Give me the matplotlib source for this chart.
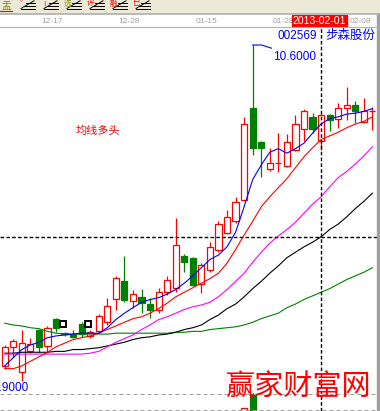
import matplotlib
matplotlib.use('Agg')
import matplotlib.pyplot as plt
from matplotlib.lines import Line2D
from matplotlib.patches import Rectangle
import numpy as np

W, H = 380, 411

# Daily candles, index 0 = 2012-12-07 ... index 43 = 2013-02-18
opens = [7.07, 7.28, 7.00, 7.23, 7.47, 7.29, 7.59, 7.43, 7.42, 7.53,
         7.40, 7.45, 7.55, 7.81, 8.00, 7.78, 7.83, 7.75, 7.69, 7.88,
         7.93, 8.28, 8.26, 7.97, 8.13, 8.35, 8.53, 8.66, 8.90, 9.91,
         9.53, 9.24, 9.30, 9.27, 9.45, 9.68, 9.81, 9.54, 9.83, 9.79,
         9.91, 9.94, 9.75, 9.87]
highs = [7.30, 7.37, 7.47, 7.38, 7.48, 7.51, 7.60, 7.44, 7.47, 7.55,
         7.47, 7.64, 7.82, 8.06, 8.28, 7.91, 7.92, 7.82, 7.93, 8.06,
         8.70, 8.30, 8.27, 8.20, 8.43, 8.66, 8.79, 8.93, 9.81, 10.60,
         9.54, 9.47, 9.63, 9.62, 9.83, 9.90, 9.85, 9.84, 9.84, 9.96,
         10.14, 9.98, 10.02, 9.92]
lows = [7.04, 7.17, 6.90, 7.21, 7.22, 7.21, 7.44, 7.40, 7.38, 7.39,
        7.38, 7.43, 7.52, 7.69, 7.77, 7.71, 7.65, 7.60, 7.65, 7.85,
        7.88, 8.10, 7.95, 7.87, 8.10, 8.32, 8.52, 8.64, 8.88, 9.39,
        9.15, 9.21, 9.20, 9.26, 9.43, 9.54, 9.63, 9.45, 9.65, 9.69,
        9.78, 9.74, 9.74, 9.67]
closes = [7.28, 7.34, 7.32, 7.31, 7.28, 7.49, 7.49, 7.42, 7.39, 7.42,
          7.44, 7.62, 7.73, 8.04, 7.80, 7.86, 7.76, 7.69, 7.88, 8.02,
          8.40, 8.21, 7.96, 8.18, 8.38, 8.63, 8.71, 8.87, 9.73, 9.47,
          9.47, 9.30, 9.30, 9.53, 9.73, 9.87, 9.68, 9.83, 9.78, 9.91,
          9.94, 9.87, 9.87, 9.87]
volumes = [38, 30, 52, 25, 33, 41, 36, 18, 15, 27,
           22, 35, 44, 57, 62, 31, 29, 26, 40, 47,
           78, 55, 58, 43, 52, 61, 49, 58, 83.5, 100,
           72, 45, 48, 50, 63, 66, 52, 59, 44, 47,
           42, 39, 41, 36]

# moving averages as drawn on the chart
ma5 = [7.07, 7.16, 7.25, 7.30, 7.33, 7.38, 7.40, 7.41, 7.42, 7.43,
       7.43, 7.43, 7.49, 7.58, 7.65, 7.71, 7.77, 7.80, 7.82, 7.86,
       7.91, 7.98, 8.06, 8.15, 8.24, 8.29, 8.38, 8.54, 8.82, 9.12,
       9.28, 9.42, 9.46, 9.41, 9.46, 9.52, 9.63, 9.73, 9.79, 9.81,
       9.84, 9.85, 9.87, 9.90]
ma10 = [7.04, 7.04, 7.07, 7.12, 7.17, 7.22, 7.28, 7.32, 7.36, 7.38,
        7.40, 7.43, 7.47, 7.51, 7.55, 7.59, 7.61, 7.65, 7.70, 7.76,
        7.83, 7.88, 7.93, 7.98, 8.03, 8.09, 8.20, 8.35, 8.51, 8.66,
        8.82, 8.93, 9.03, 9.13, 9.25, 9.37, 9.47, 9.56, 9.60, 9.64,
        9.69, 9.73, 9.76, 9.81]
ma20 = [7.20, 7.20, 7.20, 7.20, 7.20, 7.20, 7.20, 7.20, 7.20, 7.20,
        7.21, 7.23, 7.28, 7.33, 7.37, 7.41, 7.47, 7.52, 7.58, 7.61,
        7.65, 7.69, 7.72, 7.74, 7.77, 7.83, 7.91, 8.00, 8.09, 8.21,
        8.32, 8.42, 8.50, 8.57, 8.65, 8.75, 8.85, 8.93, 9.04, 9.14,
        9.21, 9.29, 9.38, 9.48]
ma30 = [7.21, 7.21, 7.22, 7.22, 7.22, 7.22, 7.23, 7.23, 7.25, 7.25,
        7.26, 7.27, 7.29, 7.31, 7.33, 7.36, 7.38, 7.39, 7.41, 7.42,
        7.44, 7.47, 7.49, 7.52, 7.58, 7.63, 7.70, 7.75, 7.83, 7.92,
        8.00, 8.09, 8.17, 8.26, 8.32, 8.38, 8.43, 8.49, 8.57, 8.63,
        8.71, 8.80, 8.88, 8.97]
ma60 = [7.54, 7.52, 7.51, 7.49, 7.48, 7.45, 7.43, 7.42, 7.42, 7.42,
        7.42, 7.42, 7.42, 7.43, 7.43, 7.43, 7.43, 7.43, 7.43, 7.43,
        7.44, 7.44, 7.45, 7.45, 7.47, 7.48, 7.49, 7.50, 7.52, 7.55,
        7.59, 7.62, 7.65, 7.71, 7.75, 7.80, 7.84, 7.88, 7.92, 7.97,
        8.02, 8.06, 8.10, 8.15]

date_ticks = [6, 15, 24, 33, 42]
date_labels = ['12-17', '12-28', '01-15', '01-28', '02-08']
cursor_day = 37
cursor_label = '2013-02-01'
cursor_price = 8.49
stock_code = '002569'
stock_name = '步森股份'
note = '均线多头'
watermark = '赢家财富网'
mine_days = [7, 10]
mine_price = 7.53

RED = '#FF0000'
GREEN = '#008000'
BLUE = '#0000FF'
MAGENTA = '#FF00FF'
GRAY = '#A0A0A0'
CJK = ['Noto Sans CJK SC', 'DejaVu Sans']
NUM = 'Liberation Sans'

XLIM = (-0.55, 43.54)
YLIM = (6.761, 10.798)

fig = plt.figure(figsize=(W / 100, H / 100), dpi=100)
fig.patch.set_facecolor('white')


def px_rect(x0, y0, x1, y1):
    return [x0 / W, 1 - y1 / H, (x1 - x0) / W, (y1 - y0) / H]


def fig_xy(x, y):
    return x / W, 1 - y / H


def fig_line(xs, ys, **kw):
    fig.add_artist(Line2D([x / W for x in xs], [1 - y / H for y in ys],
                          transform=fig.transFigure, **kw))


# Toolbar strip
tb = fig.add_axes(px_rect(0, 0, W, 14))
tb.set_xlim(0, W)
tb.set_ylim(14, 0)
tb.axis('off')
tb.add_patch(Rectangle((0, 0), W, 14, color='#ECE9D8'))
icon_x = [0, 18, 41, 64, 87, 110, 133]
icon_chars = ['盂', '°', '!', '选', '评', '融', '巳']
icon_cols = ['#8B8B00', RED, RED, '#8B8B00', RED, RED, RED]
for i, (x0, ch, col) in enumerate(zip(icon_x, icon_chars, icon_cols)):
    if i == 0:
        tb.text(x0 + 6, 5.5, ch, color=col, fontsize=7, ha='center', va='center', family=CJK)
        tb.plot([x0, x0 + 12], [11.5, 11.5], color=RED, lw=0.8)
        continue
    tb.text(x0 + 3.5, 3.5, ch, color=col, fontsize=5.5, ha='center', va='center', family=CJK)
    tb.plot([x0 + 16, x0 + 3], [0.8, 8.5], color='black', lw=0.7)
    tb.plot([x0 + 8, x0 + 17], [3.5, 3.5], color='black', lw=0.7)
    tb.plot([x0 + 6, x0 + 17], [6.2, 6.2], color='black', lw=0.7)
    tb.plot([x0 + 3, x0 + 17], [9.0, 9.0], color='black', lw=0.7)
fig_line([0, W], [14.5, 14.5], color='#A8A8A8', lw=1.1)

# Date strip
axd = fig.add_axes(px_rect(0, 15, 377, 27))
axd.set_xlim(*XLIM)
axd.set_ylim(0, 1)
axd.axis('off')
for k, lab in zip(date_ticks, date_labels):
    axd.text(k - 0.45, 0.5, lab, color=GRAY, fontsize=6, ha='center', va='center', family=NUM)
axd.add_patch(Rectangle((cursor_day - 0.2 - 3.215, 0.025), 6.43, 0.975, color=RED, zorder=3))
axd.text(cursor_day - 0.2, 0.5, cursor_label, color='white', fontsize=7.5,
         ha='center', va='center', family=NUM, zorder=4)
fig_line([0, 377], [27, 27], color='#B4B4B4', lw=0.8)

# Price panel
ax = fig.add_axes(px_rect(0, 27, 377, 394))
ax.set_xlim(*XLIM)
ax.set_ylim(*YLIM)
ax.axis('off')

for i in range(len(closes)):
    o, h, l, c = opens[i], highs[i], lows[i], closes[i]
    rising = c >= o
    col = RED if rising else GREEN
    ax.vlines(i, l, h, color=col, lw=0.9, zorder=2)
    ax.bar(i, abs(c - o), bottom=min(o, c), width=0.72,
           color='white' if rising else GREEN, edgecolor=col, linewidth=0.9, zorder=3)

days = np.arange(len(closes))
for vals, col in [(ma60, GREEN), (ma30, 'black'), (ma20, MAGENTA), (ma10, RED), (ma5, BLUE)]:
    ax.plot(days, vals, color=col, lw=0.8, zorder=4)

# info markers
for k in mine_days:
    ax.plot(k - 0.2, mine_price, marker='s', ms=5, mfc='white', mec='black', mew=1.4, zorder=5)

# highest / lowest labels
hi_i = int(np.argmax(highs))
lo_i = int(np.argmin(lows))
hi, lo = highs[hi_i], lows[lo_i]
ax.plot([hi_i, hi_i + 1.05, hi_i + 2.2], [hi, hi, hi - 0.035], color=BLUE, lw=0.8,
        clip_on=False, zorder=5)
ax.text(hi_i + 2.35, hi - 0.13, f'{hi:.4f}', color=BLUE, fontsize=8.5,
        ha='left', va='center', family=NUM)
ax.text(lo_i + 0.8, lo - 0.01, f'{lo:.4f}', color=BLUE, fontsize=8.5,
        ha='right', va='top', family=NUM)

# crosshair
cross = dict(color='black', lw=1.0, dashes=(2.6, 1.6), zorder=6)
ax.axhline(cursor_price, **cross)
ax.axvline(cursor_day, **cross)

# Volume panel (only the top of the tallest bars shows)
axv = fig.add_axes(px_rect(0, 394, 377, 411))
axv.set_xlim(*XLIM)
axv.set_ylim(80, 100)
axv.axis('off')
for i in range(len(volumes)):
    rising = closes[i] >= opens[i]
    col = RED if rising else GREEN
    axv.bar(i, volumes[i], width=0.72, color='white' if rising else GREEN,
            edgecolor=col, linewidth=0.9)
axv.axvline(cursor_day, **cross)

fig_line([0, 377], [394, 394], color=GRAY, lw=0.72, dashes=(4, 3))
fig_line([0, 377], [410, 410], color=GRAY, lw=0.72, dashes=(4, 3))

# right border
fig.add_artist(Rectangle(fig_xy(377, 411), 3 / W, 397 / H, transform=fig.transFigure,
                         color=GRAY, zorder=1))

# texts
fig.text(*fig_xy(317, 35.5), stock_code, color=BLUE, fontsize=8.5, ha='right', va='center', family=NUM)
fig.text(*fig_xy(350, 35), stock_name, color=BLUE, fontsize=9, ha='center', va='center', family=CJK)
fig.text(*fig_xy(97.5, 131), note, color=RED, fontsize=8, ha='center', va='center', family=CJK)
fig.text(*fig_xy(299, 387), watermark, color=RED, fontsize=21, ha='center', va='center',
         family=CJK, zorder=5)

fig.savefig('out.png', dpi=100)
